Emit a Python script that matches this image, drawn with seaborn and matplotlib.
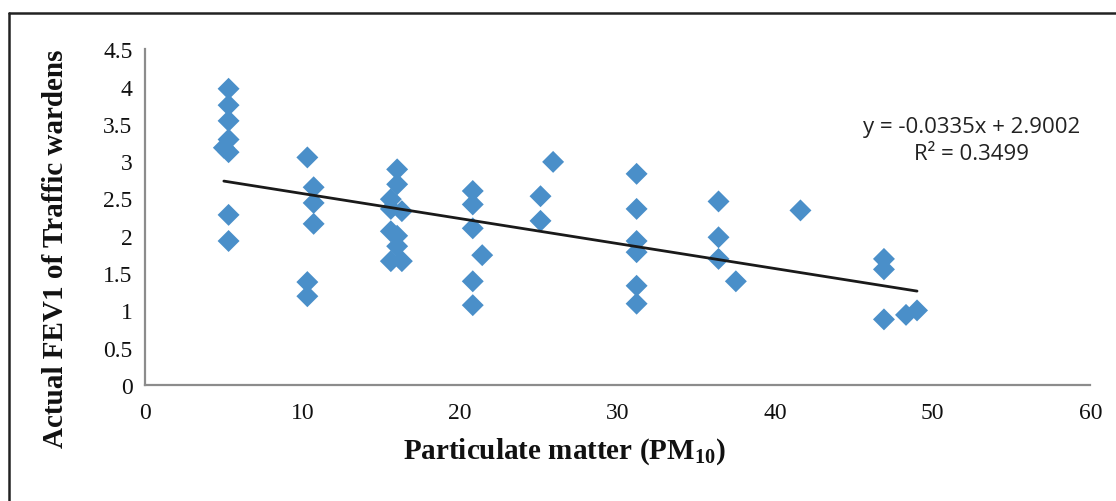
import numpy as np
import pandas as pd
import seaborn as sns
import matplotlib.pyplot as plt
from matplotlib.lines import Line2D

# Valeurs
pm10 = [5.3, 5.3, 5.3, 5.3, 5.0, 5.3, 5.3, 5.3,
        10.3, 10.7, 10.7, 10.7, 10.3, 10.3,
        16.0, 16.0, 15.6, 15.6, 16.3, 15.6, 16.0, 16.0, 15.6, 16.3,
        20.8, 20.8, 20.8, 21.4, 20.8, 20.8,
        25.1, 25.1, 25.9,
        31.2, 31.2, 31.2, 31.2, 31.2, 31.2,
        36.4, 36.4, 36.4, 37.5,
        41.6,
        46.9, 46.9, 46.9, 48.3, 49.0]
fev1 = [3.97, 3.75, 3.54, 3.29, 3.18, 3.12, 2.28, 1.93,
        3.05, 2.65, 2.44, 2.16, 1.38, 1.19,
        2.89, 2.69, 2.49, 2.36, 2.33, 2.06, 2.00, 1.86, 1.66, 1.66,
        2.60, 2.42, 2.10, 1.74, 1.39, 1.07,
        2.53, 2.20, 2.99,
        2.83, 2.36, 1.93, 1.78, 1.33, 1.09,
        2.46, 1.98, 1.69, 1.39,
        2.34,
        1.69, 1.55, 0.88, 0.94, 1.00]

slope = -0.0335
intercept = 2.9002
r2 = 0.3499

df = pd.DataFrame({'pm10': pm10, 'fev1': fev1})

sns.set_style('white')
plt.rcParams['font.family'] = ['Liberation Serif', 'DejaVu Serif']
plt.rcParams['mathtext.fontset'] = 'custom'
plt.rcParams['mathtext.bf'] = 'Liberation Serif:bold'
plt.rcParams['mathtext.rm'] = 'Liberation Serif:bold'

fig = plt.figure(figsize=(11.16, 5.02), dpi=100)
ax = fig.add_axes([0.130, 0.231, 0.847, 0.669])

sns.scatterplot(data=df, x='pm10', y='fev1', marker='D', s=125,
                color='#4a8fc9', edgecolor='none', linewidth=0, ax=ax, zorder=3)

# droite de tendance (Excel)
xl = np.array([df['pm10'].min(), df['pm10'].max()])
trend = pd.DataFrame({'x': xl, 'y': slope * xl + intercept})
sns.lineplot(data=trend, x='x', y='y', color='#1a1a1a', linewidth=2.0, ax=ax, zorder=4)

ax.set_xlim(0, 60)
ax.set_ylim(0, 4.5)
ax.set_xticks(range(0, 61, 10))
ax.set_yticks(np.arange(0, 4.51, 0.5))
ax.set_yticklabels(['0', '0.5', '1', '1.5', '2', '2.5', '3', '3.5', '4', '4.5'])

gray = '#8c8c8c'
for side in ['top', 'right']:
    ax.spines[side].set_visible(False)
for side in ['left', 'bottom']:
    ax.spines[side].set_color(gray)
    ax.spines[side].set_linewidth(1.6)
ax.tick_params(axis='both', direction='out', length=6, width=1.6, color=gray,
               labelsize=17, labelcolor='#111111', pad=3)
ax.tick_params(axis='x', pad=6)

ax.set_xlabel(r'Particulate matter (PM$_{\mathbf{10}}$)', fontsize=21,
              fontweight='bold', color='#111111')
ax.xaxis.set_label_coords(0.444, -0.15)
ax.set_ylabel('Actual FEV1 of Traffic wardens', fontsize=21,
              fontweight='bold', color='#111111')
ax.yaxis.set_label_coords(-0.08, 0.41)

ax.text(0.874, 0.729, 'y = -0.0335x + 2.9002\nR² = 0.3499',
        transform=ax.transAxes, ha='center', va='center', fontsize=16,
        family=['Open Sans', 'DejaVu Sans'], color='#222222', linespacing=1.4)

# cadre autour de la figure
fig.add_artist(Line2D([9 / 1116, 9 / 1116], [0, 1 - 14 / 502],
                      transform=fig.transFigure, color='#222222', linewidth=1.8))
fig.add_artist(Line2D([9 / 1116, 1], [1 - 14 / 502, 1 - 14 / 502],
                      transform=fig.transFigure, color='#222222', linewidth=1.8))

fig.savefig('out.png', dpi=100)
